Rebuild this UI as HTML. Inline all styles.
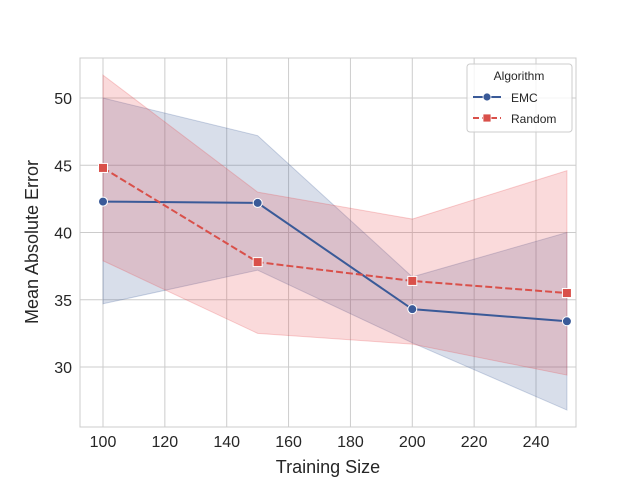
<!DOCTYPE html>
<html><head><meta charset="utf-8">
<style>
body{margin:0;background:#fff;}
svg text{font-family:"Liberation Sans",Arial,sans-serif;fill:#262626;}
</style></head>
<body>
<svg id="chart" width="640" height="480" xmlns="http://www.w3.org/2000/svg">
<g id="grid"></g>
<g id="bands"></g>
<g id="lines"></g>
<rect x="80" y="58" width="496" height="369" fill="none" stroke="#cccccc" stroke-width="1"/>
<g id="ticks"></g>
<text x="328" y="473" font-size="18" text-anchor="middle">Training Size</text>
<text transform="translate(38,242) rotate(-90)" font-size="18" text-anchor="middle">Mean Absolute Error</text>
<g>
<rect x="467" y="64" width="105" height="68" rx="3" fill="#fff" fill-opacity="0.8" stroke="#cccccc"/>
<text x="519" y="80" font-size="12" text-anchor="middle">Algorithm</text>
<g>
<line x1="473" y1="97" x2="501" y2="97" stroke="#3a5a98" stroke-width="2"/>
<circle cx="487" cy="97" r="4" fill="#3a5a98" stroke="#fff" stroke-width="0.8"/>
<text x="511" y="102" font-size="12">EMC</text></g>
<g>
<line x1="473" y1="118" x2="501" y2="118" stroke="#d9504a" stroke-width="2" stroke-dasharray="6,3"/>
<rect x="483" y="114" width="8" height="8" fill="#d9504a" stroke="#fff" stroke-width="0.8"/>
<text x="511" y="123" font-size="12">Random</text></g>
</g>
</svg>
<script>
const xValues=[100,150,200,250];
const emcMean=[42.3,42.2,34.3,33.4];
const emcLow=[34.7,37.2,31.8,26.8];
const emcHigh=[50.0,47.2,36.7,40.0];
const randMean=[44.8,37.8,36.4,35.5];
const randLow=[37.9,32.5,31.7,29.4];
const randHigh=[51.7,43.0,41.0,44.6];
const xTicks=[100,120,140,160,180,200,220,240];
const yTicks=[30,35,40,45,50];

const NS="http://www.w3.org/2000/svg";
function X(v){return 103+(v-100)*433/140;}
function Y(v){return 367-(v-30)*269/20;}
function mk(parent,tag,attrs){const e=document.createElementNS(NS,tag);for(const k in attrs)e.setAttribute(k,attrs[k]);document.getElementById(parent).appendChild(e);return e;}
xTicks.forEach(t=>{
 const l=mk('grid','line',{x1:X(t),x2:X(t),y1:58,y2:427,stroke:'#cccccc'});
 
 
 const tx=mk('ticks','text',{x:X(t),y:447,'font-size':16,'text-anchor':'middle'});tx.textContent=t;
 
 
});
yTicks.forEach(t=>{
 const l=mk('grid','line',{x1:80,x2:576,y1:Y(t),y2:Y(t),stroke:'#cccccc'});
 
 
 const tx=mk('ticks','text',{x:72,y:Y(t)+6,'font-size':16,'text-anchor':'end'});tx.textContent=t;
 
 
});
function band(lo,hi,color,name){
 let d=xValues.map((x,i)=>(i?'L':'M')+X(x)+','+Y(hi[i])).join('');
 for(let i=xValues.length-1;i>=0;i--)d+='L'+X(xValues[i])+','+Y(lo[i]);
 const p=mk('bands','path',{d:d+'Z',fill:color,'fill-opacity':0.2,stroke:color,'stroke-opacity':0.25});
 
 
}
band(emcLow,emcHigh,'#3a5a98','emc-band');
band(randLow,randHigh,'#e8474a','random-band');
function line(m,color,dash,name,marker){
 const pts=xValues.map((x,i)=>X(x)+','+Y(m[i])).join(' ');
 const pl=mk('lines','polyline',{points:pts,fill:'none',stroke:color,'stroke-width':2,'stroke-dasharray':dash});
 
 
 xValues.forEach((x,i)=>{
  let e;
  if(marker==='c')e=mk('lines','circle',{cx:X(x),cy:Y(m[i]),r:4.5,fill:color,stroke:'#fff','stroke-width':1});
  else e=mk('lines','rect',{x:X(x)-4.5,y:Y(m[i])-4.5,width:9,height:9,fill:color,stroke:'#fff','stroke-width':1});
  
  
 });
}
line(emcMean,'#3a5a98','none','emc','c');
line(randMean,'#d9504a','7,3','random','s');
</script>
</body></html>
